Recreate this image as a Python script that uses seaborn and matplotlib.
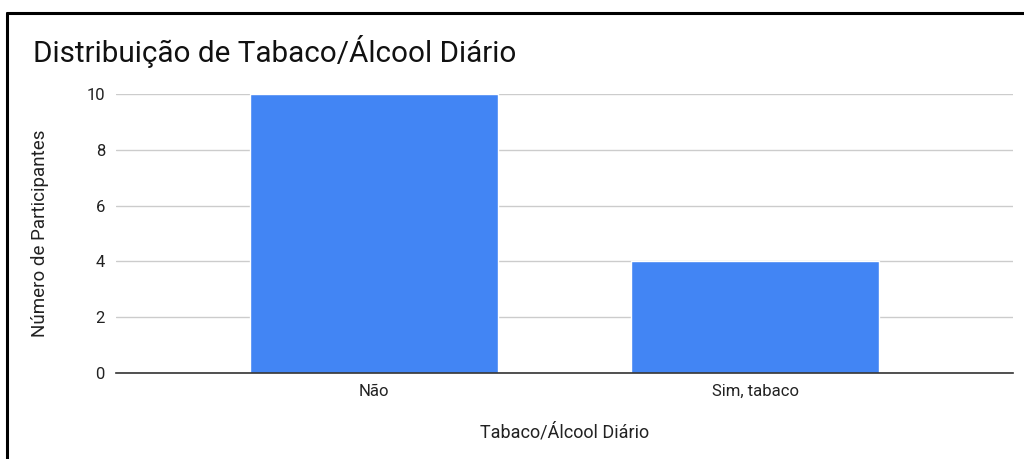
import pandas as pd
import matplotlib.pyplot as plt
import seaborn as sns
from matplotlib.lines import Line2D

# data
categorias = ['Não', 'Sim, tabaco']
participantes = [10, 4]
y_ticks = [0, 2, 4, 6, 8, 10]

df = pd.DataFrame({'Tabaco/Álcool Diário': categorias,
                   'Número de Participantes': participantes})

sns.set_style('white')
plt.rcParams['font.family'] = ['Roboto', 'DejaVu Sans']

fig = plt.figure(figsize=(10.24, 4.59), dpi=100)
ax = fig.add_axes([116 / 1024, 1 - 373 / 459, (1013 - 116) / 1024, (373 - 94) / 459])

sns.barplot(x='Tabaco/Álcool Diário', y='Número de Participantes', data=df,
            color='#4285f4', saturation=1, width=0.65, ax=ax)

ax.set_xlim(-0.675, 1.676)
ax.set_ylim(0, 10)
ax.set_yticks(y_ticks)
ax.yaxis.grid(True, color='#cccccc', linewidth=1)
ax.set_axisbelow(True)
for s in ['top', 'right', 'left']:
    ax.spines[s].set_visible(False)
ax.spines['bottom'].set_color('#333333')
ax.spines['bottom'].set_linewidth(1.2)
ax.tick_params(axis='both', length=0, labelsize=12, colors='#222222')
ax.tick_params(axis='y', pad=8)
ax.tick_params(axis='x', pad=8)

ax.set_xlabel('Tabaco/Álcool Diário', fontsize=13, color='#222222', labelpad=17)
ax.set_ylabel('Número de Participantes', fontsize=13.5, color='#222222', labelpad=27)

fig.text(33 / 1024, 1 - 52 / 459, 'Distribuição de Tabaco/Álcool Diário',
         fontsize=21.3, color='#111111', ha='left', va='center')

# black frame around the chart (top and left edges visible)
fig.add_artist(Line2D([6.5 / 1024, 1.0], [1 - 12.5 / 459] * 2, color='black', linewidth=2.2))
fig.add_artist(Line2D([6.5 / 1024] * 2, [0, 1 - 12.5 / 459], color='black', linewidth=2.2))

fig.savefig('out.png', dpi=100)
